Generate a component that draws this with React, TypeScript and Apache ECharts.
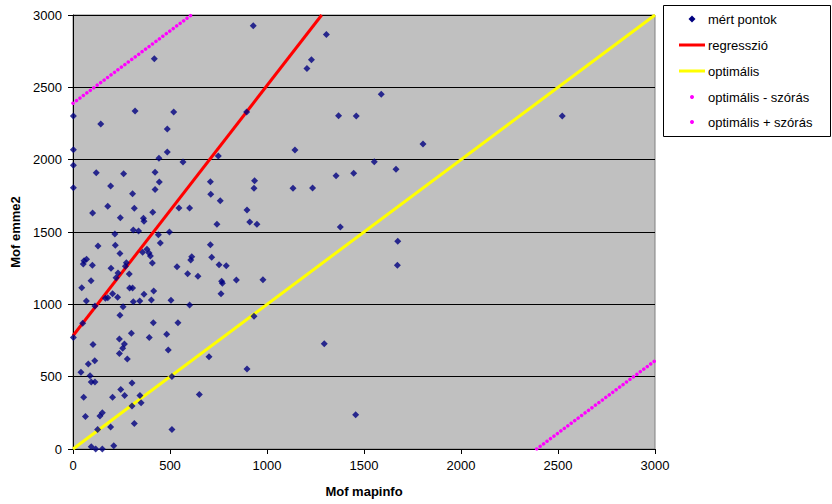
import React, { useEffect, useRef } from "react";
import * as echarts from "echarts";

const xTicks = [0, 500, 1000, 1500, 2000, 2500, 3000];
const yTicks = [0, 500, 1000, 1500, 2000, 2500, 3000];

const measuredX = [
  929, 419, 2, 143, 320, 519, 486, 895, 2, 2, 443, 486, 567, 749, 2, 120, 261, 194, 423, 445,
  423, 307, 101, 179, 244, 316, 363, 366, 411, 546, 601, 708, 710, 759, 742, 936, 933, 897, 911, 948,
  979, 216, 311, 338, 440, 497, 450, 129, 218, 242, 359, 381, 392, 399, 409, 53, 57, 70, 100, 275,
  270, 196, 290, 232, 222, 45, 93, 292, 307, 204, 167, 179, 230, 366, 416, 69, 311, 344, 404, 505,
  113, 258, 601, 536, 591, 607, 612, 644, 708, 715, 753, 766, 770, 790, 842, 763, 2, 50, 242, 414,
  541, 301, 483, 393, 239, 103, 265, 256, 491, 239, 280, 112, 79, 41, 88, 510, 701, 897, 933, 94,
  113, 246, 304, 651, 55, 204, 266, 345, 351, 304, 64, 139, 151, 316, 194, 127, 510, 210, 94, 117,
  151, 1306, 1229, 1206, 1589, 1369, 1460, 1804, 1144, 1553, 1665, 1356, 1447, 1134, 1235, 1378, 1674, 1672, 1295, 1457,
  2522,
];
const measuredY = [
  2926, 2698, 2302, 2247, 2336, 2329, 2212, 2329, 2069, 1961, 2009, 2053, 1984, 2025, 1806, 1910, 1903, 1818, 1913, 1846,
  1793, 1765, 1631, 1678, 1599, 1664, 1595, 1574, 1636, 1666, 1666, 1848, 1761, 1716, 1553, 1855, 1802, 1652, 1569, 1553,
  1170, 1486, 1514, 1507, 1481, 1500, 1424, 1403, 1408, 1352, 1360, 1380, 1355, 1334, 1286, 1279, 1302, 1311, 1270, 1288,
  1263, 1249, 1210, 1217, 1184, 1115, 1163, 1113, 1113, 1074, 1042, 1046, 1049, 1069, 1092, 1023, 1018, 1023, 1030, 1028,
  988, 984, 995, 1260, 1212, 1306, 1329, 1194, 1412, 1325, 1274, 1159, 1145, 1267, 1168, 1074, 770, 869, 924, 873,
  873, 800, 793, 770, 760, 723, 726, 696, 684, 661, 622, 610, 588, 530, 507, 502, 638, 553, 917, 463,
  463, 412, 456, 376, 357, 357, 369, 369, 320, 297, 224, 228, 251, 177, 152, 134, 134, 23, 16, 0,
  0, 2866, 2691, 2631, 2452, 2304, 2302, 2108, 2067, 1986, 1933, 1889, 1906, 1802, 1804, 1535, 1436, 1270, 728, 237,
  2302,
];

const regressionX = [0, 1282];
const regressionY = [783, 3000];
const optimalX = [0, 3000];
const optimalY = [0, 3000];
const minusX = [2390, 3000];
const minusY = [0, 610];
const plusX = [0, 610];
const plusY = [2390, 3000];

const legendNames = ["mért pontok", "regresszió", "optimális", "optimális - szórás", "optimális + szórás"];

const FONT = "'Liberation Sans', Arial, sans-serif";

function zip(xs: number[], ys: number[]) {
  return xs.map((x, i) => [x, ys[i]]);
}

export default function App() {
  const ref = useRef<HTMLDivElement>(null);
  useEffect(() => {
    if (!ref.current) return;
    const chart = echarts.init(ref.current, undefined, { renderer: "svg" });
    const lx = 692;
    const ly = [19, 45, 71, 97, 122];
    const legendGraphics: any[] = [
      {
        type: "rect",
        shape: { x: 663.5, y: 5.5, width: 167, height: 131 },
        style: { fill: "#fff", stroke: "#000", lineWidth: 1 },
        z: 10,
      },
      {
        type: "polygon",
        shape: { points: [[lx, ly[0] - 3.5], [lx + 3.5, ly[0]], [lx, ly[0] + 3.5], [lx - 3.5, ly[0]]] },
        style: { fill: "#000080" },
        z: 11,
      },
      {
        type: "line",
        shape: { x1: 679, y1: ly[1], x2: 705, y2: ly[1] },
        style: { stroke: "#ff0000", lineWidth: 3 },
        z: 11,
      },
      {
        type: "line",
        shape: { x1: 679, y1: ly[2], x2: 705, y2: ly[2] },
        style: { stroke: "#ffff00", lineWidth: 3 },
        z: 11,
      },
      { type: "circle", shape: { cx: lx, cy: ly[3], r: 2 }, style: { fill: "#ff00ff" }, z: 11 },
      { type: "circle", shape: { cx: lx, cy: ly[4], r: 2 }, style: { fill: "#ff00ff" }, z: 11 },
    ];
    legendNames.forEach((n, i) => {
      legendGraphics.push({
        type: "text",
        x: 708,
        y: ly[i],
        style: { text: n, fill: "#000", font: `13px ${FONT}`, textVerticalAlign: "middle", textAlign: "left" },
        z: 11,
      });
    });

    const dotted = { width: 3.5, color: "#ff00ff", type: [0.01, 4.3], cap: "round" };

    chart.setOption({
      animation: false,
      backgroundColor: "#ffffff",
      textStyle: { fontFamily: FONT },
      grid: {
        left: 73,
        top: 15,
        right: 177,
        bottom: 55,
        show: true,
        backgroundColor: "#c0c0c0",
        borderColor: "#808080",
        borderWidth: 1,
      },
      xAxis: {
        type: "value",
        min: xTicks[0],
        max: xTicks[xTicks.length - 1],
        interval: 500,
        name: "Mof mapinfo",
        nameLocation: "middle",
        nameGap: 36,
        nameTextStyle: { fontSize: 13, fontWeight: "bold", color: "#000", fontFamily: FONT },
        axisLine: { show: true, onZero: false, lineStyle: { color: "#000", width: 1 } },
        axisTick: { show: true, inside: false, length: 5, lineStyle: { color: "#000" } },
        axisLabel: { fontSize: 13, color: "#000", margin: 10, fontFamily: FONT, formatter: (v: number) => (xTicks.includes(v) ? String(v) : "") },
        splitLine: { show: false },
      },
      yAxis: {
        type: "value",
        min: yTicks[0],
        max: yTicks[yTicks.length - 1],
        interval: 500,
        name: "Mof emme2",
        nameLocation: "middle",
        nameGap: 49,
        nameTextStyle: { fontSize: 13, fontWeight: "bold", color: "#000", fontFamily: FONT },
        axisLine: { show: true, onZero: false, lineStyle: { color: "#000", width: 1 } },
        axisTick: { show: true, inside: false, length: 5, lineStyle: { color: "#000" } },
        axisLabel: { fontSize: 13, color: "#000", margin: 11, fontFamily: FONT, formatter: (v: number) => (yTicks.includes(v) ? String(v) : "") },
        splitLine: {
          show: true,
          lineStyle: { color: "#000", width: 1 },
          interval: (_i: number, v: number) => v < 3000,
        },
      },
      series: [
        {
          name: legendNames[3],
          type: "line",
          data: zip(minusX, minusY),
          showSymbol: false,
          symbol: "none",
          lineStyle: dotted,
          z: 3,
        },
        {
          name: legendNames[4],
          type: "line",
          data: zip(plusX, plusY),
          showSymbol: false,
          symbol: "none",
          lineStyle: dotted,
          z: 3,
        },
        {
          name: legendNames[2],
          type: "line",
          data: zip(optimalX, optimalY),
          showSymbol: false,
          symbol: "none",
          lineStyle: { width: 3, color: "#ffff00" },
          z: 3,
        },
        {
          name: legendNames[1],
          type: "line",
          data: zip(regressionX, regressionY),
          showSymbol: false,
          symbol: "none",
          lineStyle: { width: 3, color: "#ff0000" },
          z: 3,
        },
        {
          name: legendNames[0],
          type: "scatter",
          data: zip(measuredX, measuredY),
          symbol: "diamond",
          symbolSize: 7,
          itemStyle: { color: "#000080" },
          z: 4,
        },
      ],
      graphic: legendGraphics,
    });
    return () => chart.dispose();
  }, []);
  return <div ref={ref} style={{ width: 832, height: 504, position: "absolute", left: 0, top: 0 }} />;
}
